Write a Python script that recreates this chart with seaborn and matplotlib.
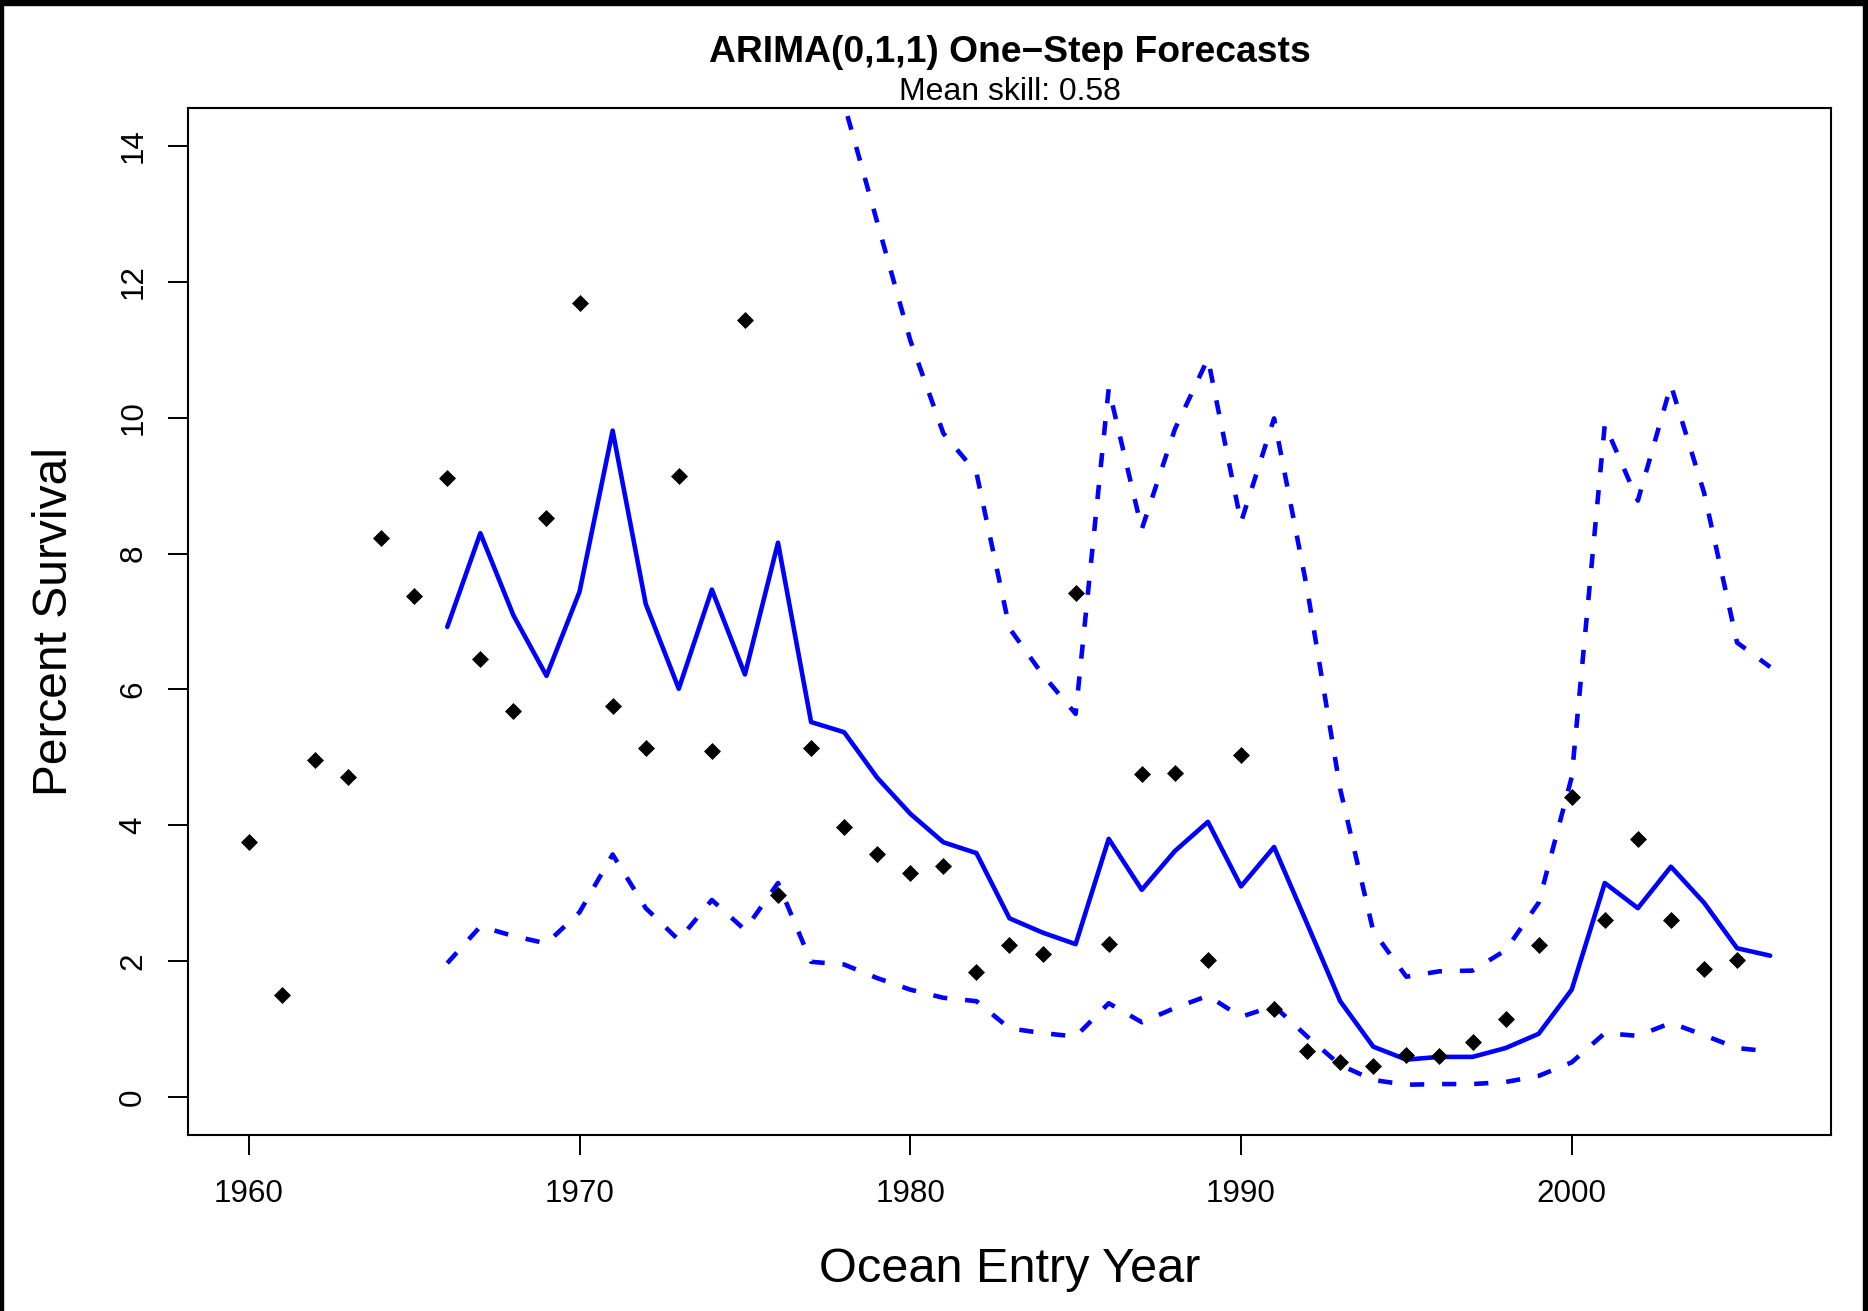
import numpy as np
import pandas as pd
import matplotlib
matplotlib.use("Agg")
import matplotlib.pyplot as plt
import seaborn as sns
from matplotlib.patches import Rectangle

# ---------------- data ----------------
obs_years = list(range(1960, 2006))
obs_survival = [3.76, 1.50, 4.96, 4.71, 8.23, 7.37, 9.11, 6.45, 5.68, 8.53,
                11.69, 5.76, 5.14, 9.14, 5.09, 11.44, 2.97, 5.14, 3.97, 3.57,
                3.29, 3.40, 1.84, 2.24, 2.10, 7.42, 2.25, 4.76, 4.77, 2.01,
                5.04, 1.29, 0.67, 0.51, 0.46, 0.62, 0.60, 0.81, 1.15, 2.23,
                4.42, 2.60, 3.80, 2.60, 1.89, 2.01]

fc_years = list(range(1966, 2007))
fc_mean = [6.92, 8.30, 7.09, 6.20, 7.44, 9.81, 7.26, 6.01, 7.47, 6.22,
           8.16, 5.52, 5.37, 4.70, 4.17, 3.75, 3.59, 2.63, 2.42, 2.25,
           3.80, 3.05, 3.62, 4.05, 3.10, 3.68, 2.55, 1.41, 0.74, 0.55,
           0.59, 0.59, 0.72, 0.93, 1.58, 3.15, 2.78, 3.39, 2.86, 2.19,
           2.08]
fc_lower = [1.97, 2.51, 2.37, 2.26, 2.72, 3.57, 2.78, 2.31, 2.90, 2.46,
            3.15, 1.99, 1.95, 1.75, 1.58, 1.46, 1.41, 1.01, 0.94, 0.89,
            1.38, 1.10, 1.31, 1.49, 1.18, 1.34, 0.89, 0.47, 0.25, 0.18,
            0.19, 0.19, 0.22, 0.31, 0.51, 0.94, 0.90, 1.09, 0.91, 0.72,
            0.67]
fc_upper = [24.3, 27.4, 21.2, 17.0, 20.3, 26.9, 19.0, 15.6, 19.2, 15.7,
            21.1, 15.3, 14.62, 12.88, 11.14, 9.77, 9.19, 6.90, 6.22, 5.64,
            10.43, 8.36, 9.83, 10.87, 8.46, 9.99, 7.48, 4.53, 2.44, 1.77,
            1.85, 1.86, 2.16, 2.86, 4.71, 9.90, 8.78, 10.48, 8.90, 6.69,
            6.33]

x_ticks = [1960, 1970, 1980, 1990, 2000]
y_ticks = [0, 2, 4, 6, 8, 10, 12, 14]

title_text = "ARIMA(0,1,1) One\u2212Step Forecasts"
subtitle_text = "Mean skill: 0.58"
xlabel_text = "Ocean Entry Year"
ylabel_text = "Percent Survival"

obs_df = pd.DataFrame({"year": obs_years, "survival": obs_survival})
fc_df = pd.DataFrame({"year": fc_years, "mean": fc_mean,
                      "lower": fc_lower, "upper": fc_upper})

# ---------------- style ----------------
sns.set_theme(style="ticks")
plt.rcParams['font.family'] = ['Liberation Sans', 'DejaVu Sans']

W, H, DPI = 1868, 1311, 100
fig = plt.figure(figsize=(W / DPI, H / DPI), dpi=DPI)
fig.patch.set_facecolor("white")

ax_left, ax_right, ax_top, ax_bottom = 188, 1831, 108, 1135
ax = fig.add_axes([ax_left / W, 1 - ax_bottom / H,
                   (ax_right - ax_left) / W, (ax_bottom - ax_top) / H])
ax.set_facecolor("white")

lw = 3.3
dash = (0, (3.1, 3.9))

sns.lineplot(data=fc_df, x="year", y="mean", color="#0000FF", linewidth=lw,
             errorbar=None, ax=ax, solid_capstyle="round", solid_joinstyle="round")
sns.lineplot(data=fc_df, x="year", y="lower", color="#0000FF", linewidth=lw,
             errorbar=None, ax=ax, linestyle=dash, dash_capstyle="butt")
sns.lineplot(data=fc_df, x="year", y="upper", color="#0000FF", linewidth=lw,
             errorbar=None, ax=ax, linestyle=dash, dash_capstyle="butt")
sns.scatterplot(data=obs_df, x="year", y="survival", marker="D", s=75,
                color="black", linewidth=0, ax=ax, zorder=5)

ax.set_xlim(1958.16, 2007.84)
ax.set_ylim(-0.56, 14.56)
ax.set_xticks(x_ticks)
ax.set_yticks(y_ticks)
ax.set_xticklabels([str(v) for v in x_ticks])
ax.set_yticklabels([str(v) for v in y_ticks])

for s in ax.spines.values():
    s.set_visible(True)
    s.set_color("black")
    s.set_linewidth(1.5)

ax.tick_params(axis="both", direction="out", length=14.4, width=1.4,
               colors="black", labelsize=22.6)
ax.tick_params(axis="x", pad=17.5)
ax.tick_params(axis="y", pad=14.3, labelrotation=90)
for lab in ax.get_yticklabels():
    lab.set_verticalalignment("center")

ax.set_xlabel(xlabel_text, fontsize=35.0, color="black")
ax.set_ylabel(ylabel_text, fontsize=34.5, color="black")
ax.xaxis.set_label_coords(0.5, (ax_bottom - 1270) / (ax_bottom - ax_top))
ax.xaxis.label.set_verticalalignment("center")
ax.yaxis.set_label_coords((55 - ax_left) / (ax_right - ax_left), 0.5)
ax.yaxis.label.set_verticalalignment("center")
ax.yaxis.label.set_horizontalalignment("center")

cx = (ax_left + ax_right) / 2 / W
fig.text(cx, 1 - 52.5 / H, title_text, ha="center", va="center",
         fontsize=26.8, fontweight="bold", color="black")
fig.text(cx, 1 - 91.5 / H, subtitle_text, ha="center", va="center",
         fontsize=23.0, color="black")

# black frame around the image
fig.patches.append(Rectangle((0, 1 - 5 / H), 1, 5 / H, transform=fig.transFigure,
                             color="black", zorder=10))
fig.patches.append(Rectangle((0, 0), 3 / W, 1, transform=fig.transFigure,
                             color="black", zorder=10))
fig.patches.append(Rectangle((1 - 5 / W, 0), 5 / W, 1, transform=fig.transFigure,
                             color="black", zorder=10))

fig.savefig("out.png", dpi=DPI, facecolor="white")
